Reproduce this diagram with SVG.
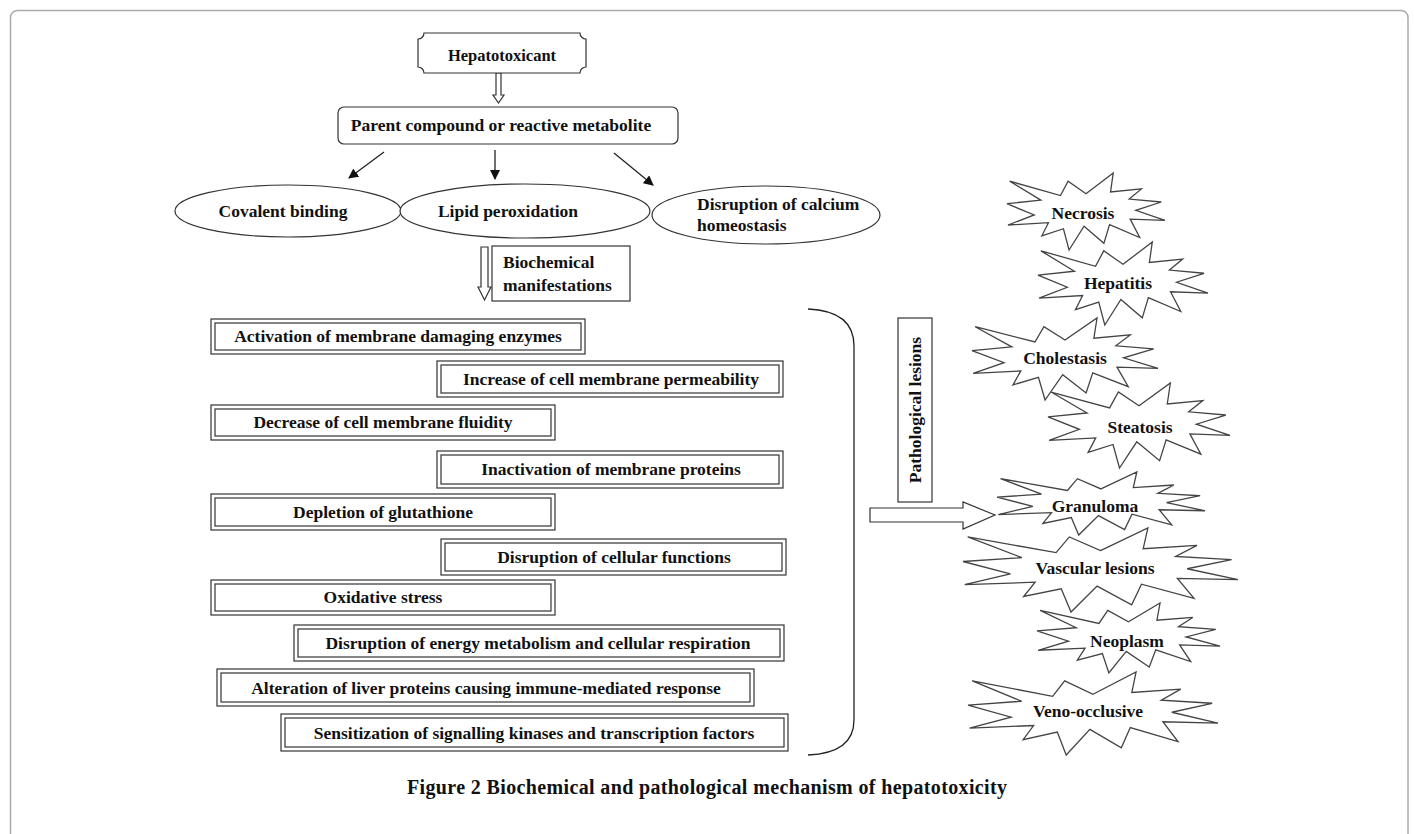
<svg xmlns="http://www.w3.org/2000/svg" xmlns:xlink="http://www.w3.org/1999/xlink" width="1414" height="834" viewBox="0 0 1414 834">
<style>
  text { font-family: "Liberation Serif", "Times New Roman", serif; font-weight: bold; fill: #111; }
  .t { font-size: 17.5px; }
  .c { text-anchor: middle; }
  .box { fill: #fff; stroke: #333; stroke-width: 1.2; }
  .dbl { fill: none; stroke: #333; stroke-width: 1.2; }
  .line { fill: none; stroke: #222; stroke-width: 1.3; }
  .hollow { fill: #fff; stroke: #333; stroke-width: 1.2; }
  .star { fill: #fff; stroke: #444; stroke-width: 1.3; }
</style>
<defs>
  <marker id="ah" markerWidth="10" markerHeight="10" refX="9" refY="5" orient="auto" markerUnits="userSpaceOnUse">
    <path d="M0,0 L10,5 L0,10 Z" fill="#111"/>
  </marker>
  <polygon id="seal" class="star" vector-effect="non-scaling-stroke" points="50,26.85 67.23,0 65.53,24.65 85.09,20.63 77.32,33.87 97.67,37.67 81.51,48.5 100,61.53 77.95,59.92 84,83.77 64.91,66.93 61.33,91.38 48.76,69.14 39.28,100 35.72,72.35 22.05,81.56 26.24,64.52 0.63,67.53 17.23,54.51 0,39.88 21.42,35.26 1.71,10.63 33.85,29.26 38.67,10.63"/>
</defs>
<rect width="1414" height="834" fill="#fff"/>
<rect x="10.5" y="10.5" width="1397.5" height="900" rx="7" fill="none" stroke="#aaa" stroke-width="1.5"/>

<g id="connectors">
  <polygon class="hollow" points="496,73 501,73 501,95 504,95 498.5,103 493,95 496,95"/>
  <line class="line" x1="384" y1="152" x2="349" y2="178" marker-end="url(#ah)"/>
  <line class="line" x1="495" y1="150" x2="495" y2="179" marker-end="url(#ah)"/>
  <line class="line" x1="614" y1="153" x2="653" y2="185" marker-end="url(#ah)"/>
  <polygon class="hollow" points="481,247 488,247 488,287 491,287 484.5,300 478,287 481,287"/>
  <path class="line" d="M808,309 Q854,311 854,346 L854,720 Q854,753 808,755" stroke="#555"/>
  <polygon class="hollow" points="870,508 963,508 963,502 995,515 963,529 963,522 870,522"/>
</g>

<g id="hepatotoxicant">
  <path class="box" d="M424,33 L580,33 A6,6 0 0 0 586,39 L586,67 A6,6 0 0 0 580,73 L424,73 A6,6 0 0 0 418,67 L418,39 A6,6 0 0 0 424,33 Z"/>
  <text x="502" y="61" class="c" font-size="16.5">Hepatotoxicant</text>
</g>
<g id="parent">
  <rect class="box" x="338" y="107" width="340" height="37" rx="6"/>
  <text x="501" y="131" class="t c">Parent compound or reactive metabolite</text>
</g>

<g id="covalent">
  <ellipse class="box" cx="288" cy="211" rx="113" ry="26"/>
  <text x="283" y="217" class="t c">Covalent binding</text>
</g>
<g id="lipid">
  <ellipse class="box" cx="525" cy="211" rx="125" ry="27"/>
  <text x="508" y="217" class="t c">Lipid peroxidation</text>
</g>
<g id="calcium">
  <ellipse class="box" cx="766" cy="215" rx="114" ry="29"/>
  <text x="697" y="210" class="t">Disruption of calcium</text>
  <text x="697" y="231" class="t">homeostasis</text>
</g>

<g id="biochemical">
  <rect class="box" x="492" y="246" width="138" height="55"/>
  <text x="503" y="268" class="t">Biochemical</text>
  <text x="503" y="291" class="t">manifestations</text>
</g>

<g id="b1"><rect class="dbl" x="211" y="319" width="374" height="35"/><rect class="dbl" x="215" y="323" width="366" height="27"/><text x="398" y="342" class="t c">Activation of membrane damaging enzymes</text></g>
<g id="b2"><rect class="dbl" x="437" y="361" width="346" height="36"/><rect class="dbl" x="441" y="365" width="338" height="28"/><text x="611" y="385" class="t c">Increase of cell membrane permeability</text></g>
<g id="b3"><rect class="dbl" x="211" y="405" width="344" height="35"/><rect class="dbl" x="215" y="409" width="336" height="27"/><text x="383" y="428" class="t c">Decrease of cell membrane fluidity</text></g>
<g id="b4"><rect class="dbl" x="437" y="451" width="346" height="37"/><rect class="dbl" x="441" y="455" width="338" height="29"/><text x="611" y="475" class="t c">Inactivation of membrane proteins</text></g>
<g id="b5"><rect class="dbl" x="211" y="494" width="344" height="36"/><rect class="dbl" x="215" y="498" width="336" height="28"/><text x="383" y="518" class="t c">Depletion of glutathione</text></g>
<g id="b6"><rect class="dbl" x="441" y="539" width="345" height="36"/><rect class="dbl" x="445" y="543" width="337" height="28"/><text x="614" y="563" class="t c">Disruption of cellular functions</text></g>
<g id="b7"><rect class="dbl" x="211" y="580" width="344" height="35"/><rect class="dbl" x="215" y="584" width="336" height="27"/><text x="383" y="603" class="t c">Oxidative stress</text></g>
<g id="b8"><rect class="dbl" x="294" y="625" width="490" height="36"/><rect class="dbl" x="298" y="629" width="482" height="28"/><text x="538" y="649" class="t c">Disruption of energy metabolism and cellular respiration</text></g>
<g id="b9"><rect class="dbl" x="217" y="669" width="537" height="37"/><rect class="dbl" x="221" y="673" width="529" height="29"/><text x="486" y="694" class="t c">Alteration of liver proteins causing immune-mediated response</text></g>
<g id="b10"><rect class="dbl" x="281" y="714" width="507" height="37"/><rect class="dbl" x="285" y="718" width="499" height="29"/><text x="534" y="739" class="t c">Sensitization of signalling kinases and transcription factors</text></g>

<g id="pathological">
  <rect class="box" x="898" y="318" width="34" height="184"/>
  <text transform="translate(921,410) rotate(-90)" class="t c">Pathological lesions</text>
</g>

<g id="necrosis"><use xlink:href="#seal" transform="translate(1007,173) scale(1.58,0.77)"/><text x="1083" y="219" class="t c">Necrosis</text></g>
<g id="hepatitis"><use xlink:href="#seal" transform="translate(1038,242) scale(1.70,0.83)"/><text x="1118" y="289" class="t c">Hepatitis</text></g>
<g id="cholestasis"><use xlink:href="#seal" transform="translate(972,318) scale(1.86,0.82)"/><text x="1065" y="364" class="t c">Cholestasis</text></g>
<g id="steatosis"><use xlink:href="#seal" transform="translate(1048,383) scale(1.82,0.85)"/><text x="1140" y="433" class="t c">Steatosis</text></g>
<g id="granuloma"><use xlink:href="#seal" transform="translate(997,472) scale(2.08,0.63)"/><text x="1095" y="512" class="t c">Granuloma</text></g>
<g id="vascular"><use xlink:href="#seal" transform="translate(963,528) scale(2.75,0.84)"/><text x="1095" y="574" class="t c">Vascular lesions</text></g>
<g id="neoplasm"><use xlink:href="#seal" transform="translate(1037,603) scale(1.83,0.70)"/><text x="1127" y="647" class="t c">Neoplasm</text></g>
<g id="veno"><use xlink:href="#seal" transform="translate(968,672) scale(2.50,0.83)"/><text x="1088" y="717" class="t c">Veno-occlusive</text></g>

<text x="707" y="794" class="c" font-size="20" textLength="600" lengthAdjust="spacing">Figure 2 Biochemical and pathological mechanism of hepatotoxicity</text>
</svg>
